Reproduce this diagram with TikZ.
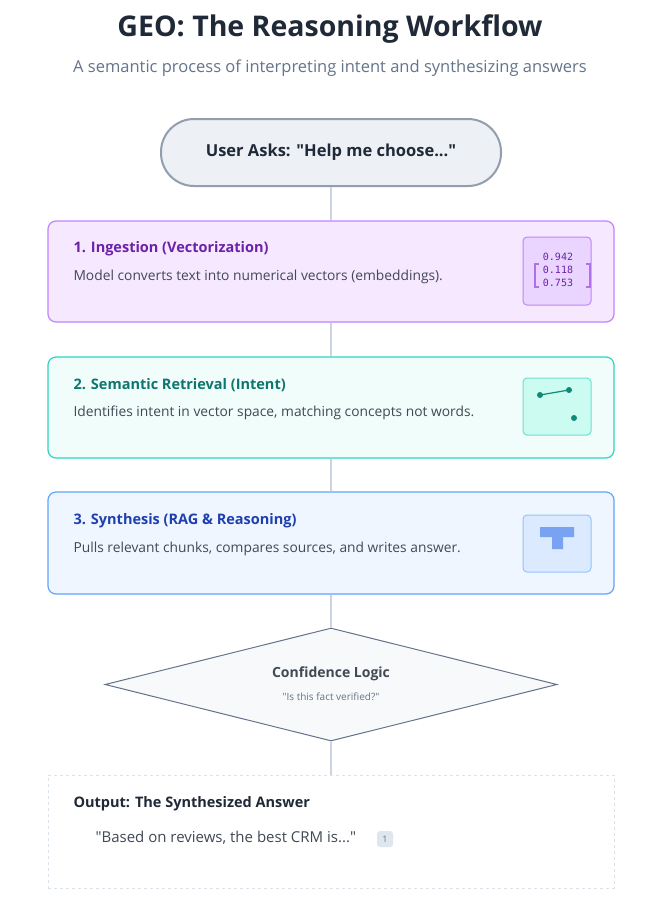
\documentclass[tikz,border=0pt]{standalone}
\usepackage{fontspec}
\setmainfont{Open Sans}
\setmonofont{DejaVu Sans Mono}
\usetikzlibrary{shapes.geometric}
\definecolor{ink}{HTML}{1F2937}
\definecolor{sub}{HTML}{64748B}
\definecolor{line}{HTML}{CBD5E1}
\definecolor{pbd}{HTML}{C084FC}\definecolor{pbg}{HTML}{F5E8FF}\definecolor{ptx}{HTML}{6B21A8}\definecolor{pic}{HTML}{E9D5FF}
\definecolor{tbd}{HTML}{2DD4BF}\definecolor{tbg}{HTML}{F0FDFA}\definecolor{ttx}{HTML}{0F766E}\definecolor{tic}{HTML}{CCFBF1}\definecolor{tdot}{HTML}{0D8A78}
\definecolor{bbd}{HTML}{60A5FA}\definecolor{bbg}{HTML}{EFF6FF}\definecolor{btx}{HTML}{1E40AF}\definecolor{bic}{HTML}{DBEAFE}\definecolor{bicb}{HTML}{93C5FD}\definecolor{bT}{HTML}{7AA2F2}
\newcommand{\dq}{\textquotedbl}
\begin{document}
\begin{tikzpicture}[x=1pt,y=-1pt,
  card/.style={draw,line width=1.2pt,rounded corners=8pt},
  ttl/.style={anchor=west,font=\fontsize{14.5}{16}\selectfont\bfseries},
  dsc/.style={anchor=west,text=ink!85,font=\fontsize{13.8}{16}\selectfont},
  icon/.style={draw,line width=1pt,rounded corners=4pt},
  conn/.style={draw=line,line width=1.6pt}]
\useasboundingbox[fill=white] (0,0) rectangle (659,908);
\node[text=ink,font=\fontsize{28.5}{32}\selectfont\bfseries] (title) at (330,29) {GEO: The Reasoning Workflow};
\node[text=sub,font=\fontsize{16.5}{19}\selectfont] (subt) at (330,68) {A semantic process of interpreting intent and synthesizing answers};
% pill
\node[draw=sub!70,fill=line!35,line width=2pt,rounded corners=33pt,minimum width=340pt,minimum height=67pt,text=ink,font=\fontsize{16.5}{19}\selectfont\bfseries] (ask) at (331,152.5) {User Asks: \dq Help me choose...\dq};
% cards
\node[card,draw=pbd,fill=pbg,minimum width=566pt,minimum height=101pt] (b1) at (331,271.5) {};
\node[card,draw=tbd,fill=tbg,minimum width=566pt,minimum height=101pt] (b2) at (331,407.5) {};
\node[card,draw=bbd,fill=bbg,minimum width=566pt,minimum height=102pt] (b3) at (331,543) {};
\node[ttl,text=ptx] (t1) at (70,249) {1. Ingestion (Vectorization)};
\node[dsc] (d1) at (70,277) {Model converts text into numerical vectors (embeddings).};
\node[ttl,text=ttx] (t2) at (70,385) {2. Semantic Retrieval (Intent)};
\node[dsc] (d2) at (70,413) {Identifies intent in vector space, matching concepts not words.};
\node[ttl,text=btx] (t3) at (70,521) {3. Synthesis (RAG \& Reasoning)};
\node[dsc] (d3) at (70,549) {Pulls relevant chunks, compares sources, and writes answer.};
% icons
\node[icon,draw=pbd,fill=pic,minimum width=68pt,minimum height=68pt] (i1) at (557,271) {};
\node[text=ptx,font=\fontsize{10}{13}\selectfont\ttfamily,align=center] (v1) at (558,270) {0.942\\0.118\\0.753};
\draw[pbd!80!ptx,line width=1.5pt] (539,264)--(535,264)--(535,287)--(539,287);
\draw[pbd!80!ptx,line width=1.5pt] (586,264)--(590,264)--(590,287)--(586,287);
\node[icon,draw=tbd!70,fill=tic,minimum width=68pt,minimum height=57pt] (i2) at (557,406.5) {};
\coordinate (p1) at (540,395); \coordinate (p2) at (569,390); \coordinate (p3) at (574,418);
\draw[tdot,line width=1.2pt] (p1)--(p2);
\foreach \p in {p1,p2,p3}\fill[tdot] (\p) circle (3pt);
\node[icon,draw=bicb,fill=bic,minimum width=68pt,minimum height=57pt] (i3) at (557,543.5) {};
\fill[bT] (540,527) rectangle (574,537) (552,537) rectangle (563,549);
% diamond
\node[diamond,draw=sub,fill=line!15,line width=1pt,aspect=4,minimum width=452pt,minimum height=113pt,inner sep=0pt] (dia) at (331,684.5) {};
\node[text=ink!85,font=\fontsize{14}{16}\selectfont\bfseries] (dt) at (331,674) {Confidence Logic};
\node[text=sub,font=\fontsize{10}{12}\selectfont] (ds) at (331,697) {\dq Is this fact verified?\dq};
% output
\node[draw=line!70,dashed,line width=1pt,minimum width=566pt,minimum height=113pt] (out) at (331,831.5) {};
\node[ttl,text=ink,font=\fontsize{14.5}{16}\selectfont\bfseries] (ot) at (70,804) {Output: The Synthesized Answer};
\node[dsc,font=\fontsize{15}{17}\selectfont] (oq) at (92,838) {\dq Based on reviews, the best CRM is...\dq};
\node[fill=line!60,rounded corners=3pt,text=sub,font=\fontsize{9}{10}\selectfont,minimum width=16pt,minimum height=16pt,inner sep=0pt] (badge) at (385,839) {1};
% connectors
\draw[conn] (ask.south)--(b1.north);
\draw[conn] (b1.south)--(b2.north);
\draw[conn] (b2.south)--(b3.north);
\draw[conn] (b3.south)--(dia.north);
\draw[conn] (dia.south)--(out.north);
\end{tikzpicture}
\end{document}
